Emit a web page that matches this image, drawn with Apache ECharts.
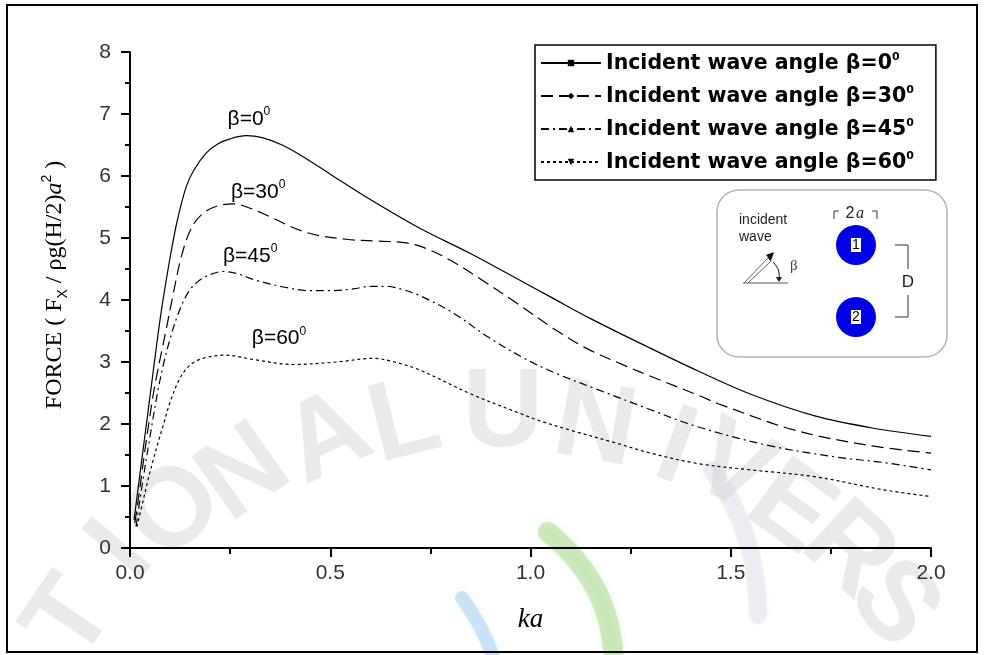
<!DOCTYPE html>
<html>
<head>
<meta charset="utf-8">
<title>Horizontal wave force on cylinder 1</title>
<script src="https://cdn.jsdelivr.net/npm/echarts@6/dist/echarts.min.js"></script>
<style>
  html, body { margin: 0; padding: 0; background: #fff; }
  #chart { width: 985px; height: 655px; }
</style>
</head>
<body>
<div id="chart"></div>
<script>
// Non-dimensional horizontal force F_X / (rho g (H/2) a^2) against ka,
// one curve per incident wave angle beta.
const angles = [0, 30, 45, 60];

const force0 = [
  [0.01, 0.45], [0.02, 0.95], [0.03, 1.45], [0.04, 1.95], [0.05, 2.45], [0.06, 2.95],
  [0.07, 3.45], [0.08, 3.9], [0.09, 4.3], [0.1, 4.68], [0.117, 5.25], [0.14, 5.82],
  [0.16, 6.1], [0.19, 6.37], [0.22, 6.52], [0.25, 6.6], [0.29, 6.65], [0.33, 6.62],
  [0.38, 6.5], [0.44, 6.28], [0.5, 6.03], [0.6, 5.62], [0.72, 5.17], [0.85, 4.75],
  [0.97, 4.33], [1.05, 4.05], [1.15, 3.7], [1.3, 3.22], [1.42, 2.85], [1.55, 2.48],
  [1.71, 2.13], [1.85, 1.94], [2.0, 1.8]
];
const force30 = [
  [0.012, 0.4], [0.02, 0.75], [0.04, 1.7], [0.06, 2.55], [0.08, 3.2], [0.092, 3.58],
  [0.108, 4.1], [0.129, 4.72], [0.154, 5.17], [0.183, 5.4], [0.22, 5.52], [0.26, 5.55],
  [0.3, 5.48], [0.34, 5.37], [0.44, 5.09], [0.54, 4.98], [0.62, 4.95], [0.69, 4.92],
  [0.74, 4.83], [0.8, 4.64], [0.87, 4.36], [0.965, 3.95], [1.06, 3.53], [1.14, 3.22],
  [1.24, 2.93], [1.3, 2.77], [1.42, 2.46], [1.48, 2.3], [1.66, 1.9], [1.84, 1.66],
  [2.0, 1.53]
];
const force45 = [
  [0.015, 0.35], [0.03, 1.0], [0.05, 1.8], [0.07, 2.55], [0.085, 3.0], [0.1, 3.37],
  [0.121, 3.79], [0.146, 4.13], [0.17, 4.3], [0.2, 4.41], [0.233, 4.46], [0.27, 4.42],
  [0.308, 4.33], [0.383, 4.21], [0.45, 4.15], [0.5, 4.15], [0.558, 4.18], [0.6, 4.22],
  [0.64, 4.22], [0.68, 4.17], [0.724, 4.07], [0.81, 3.78], [0.89, 3.42], [0.99, 3.04],
  [1.07, 2.8], [1.17, 2.55], [1.3, 2.23], [1.41, 1.97], [1.59, 1.66], [1.76, 1.47],
  [1.88, 1.38], [2.0, 1.26]
];
const force60 = [
  [0.017, 0.34], [0.033, 0.77], [0.045, 1.1], [0.058, 1.42], [0.07, 1.7], [0.083, 1.98],
  [0.1, 2.35], [0.125, 2.74], [0.15, 2.95], [0.183, 3.06], [0.24, 3.11], [0.308, 3.04],
  [0.408, 2.96], [0.516, 3.0], [0.607, 3.06], [0.66, 3.0], [0.724, 2.87], [0.849, 2.49],
  [0.974, 2.17], [1.024, 2.05], [1.1, 1.9], [1.215, 1.69], [1.3, 1.53], [1.42, 1.36],
  [1.55, 1.26], [1.71, 1.15], [1.88, 0.94], [2.0, 0.83]
];

// Curve annotations: [ka, force] where each "beta=..." tag sits.
const tagPositions = [[0.297, 6.94], [0.32, 5.77], [0.30, 4.73], [0.372, 3.40]];

const xTicks = [0, 0.5, 1.0, 1.5, 2.0];
const yTicks = [0, 1, 2, 3, 4, 5, 6, 7, 8];

const curves = [force0, force30, force45, force60];
const dashes = ['solid', [12, 6], [8, 4, 2, 4], [3, 3]];
const legendSymbols = ['rect', 'diamond', 'triangle', 'path://M0,0L10,0L5,9Z'];

const series = angles.map((b, i) => ({
  name: 'Incident wave angle β=' + b,
  type: 'line',
  data: curves[i],
  smooth: 0.35,
  showSymbol: false,
  symbol: legendSymbols[i],
  symbolSize: 5,
  itemStyle: { color: '#000' },
  lineStyle: { color: '#000', width: 1.2, type: dashes[i] },
  emphasis: { disabled: true },
  markPoint: {
    symbol: 'circle',
    symbolSize: 0,
    silent: true,
    data: [{ coord: tagPositions[i] }],
    label: {
      show: true,
      position: 'inside',
      formatter: '{b|β=' + b + '}{s|0}',
      rich: {
        b: { fontFamily: 'Liberation Sans', fontSize: 21, color: '#000', lineHeight: 24, verticalAlign: 'bottom' },
        s: { fontFamily: 'Liberation Sans', fontSize: 12, color: '#000', lineHeight: 12, verticalAlign: 'top' }
      }
    }
  }
}));

// Faint university seal behind the plot
const sealLetters = [
  ['T', 72, 620, 56], ['I', 122, 552, 50], ['O', 176, 512, 44], ['N', 245, 475, 35],
  ['A', 328, 440, 25], ['L', 405, 424, 14], ['U', 503, 415, 0], ['N', 595, 428, -10],
  ['I', 675, 450, -20], ['V', 732, 470, -28], ['E', 790, 510, -36], ['R', 848, 552, -43],
  ['S', 893, 605, -50]
];
const sealGraphics = sealLetters.map(([ch, x, y, deg]) => ({
  type: 'text',
  x: x, y: y,
  rotation: deg * Math.PI / 180,
  z: -10, silent: true,
  style: {
    text: ch,
    font: 'bold 112px "Liberation Sans"',
    fill: 'rgba(175,175,175,0.26)',
    shadowBlur: 8,
    shadowColor: 'rgba(175,175,175,0.3)',
    textAlign: 'center',
    textVerticalAlign: 'middle'
  }
}));
sealGraphics.push(
  { type: 'bezierCurve', z: -10, silent: true,
    shape: { x1: 548, y1: 532, cpx1: 600, cpy1: 575, cpx2: 612, cpy2: 620, x2: 614, y2: 660 },
    style: { stroke: 'rgba(150,210,120,0.42)', lineWidth: 20, fill: null, lineCap: 'round',
      shadowBlur: 6, shadowColor: 'rgba(150,210,120,0.4)' } },
  { type: 'bezierCurve', z: -10, silent: true,
    shape: { x1: 712, y1: 470, cpx1: 748, cpy1: 520, cpx2: 758, cpy2: 570, x2: 758, y2: 615 },
    style: { stroke: 'rgba(205,212,225,0.35)', lineWidth: 18, fill: null, lineCap: 'round',
      shadowBlur: 6, shadowColor: 'rgba(205,212,225,0.3)' } },
  { type: 'bezierCurve', z: -10, silent: true,
    shape: { x1: 462, y1: 598, cpx1: 478, cpy1: 620, cpx2: 488, cpy2: 640, x2: 494, y2: 660 },
    style: { stroke: 'rgba(120,190,230,0.35)', lineWidth: 14, fill: null, lineCap: 'round',
      shadowBlur: 6, shadowColor: 'rgba(120,190,230,0.3)' } }
);

// Sketch of the two-cylinder arrangement
const inset = [
  { type: 'rect', z: 10, shape: { x: 717, y: 190, width: 230, height: 167, r: 22 },
    style: { fill: '#fff', stroke: '#b4b4b4', lineWidth: 1.5 } },
  { type: 'text', z: 11, x: 739, y: 212,
    style: { text: 'incident\nwave', font: '14px "Liberation Sans"', fill: '#222', lineHeight: 17 } },
  { type: 'line', z: 11, shape: { x1: 743, y1: 283, x2: 788, y2: 283 }, style: { stroke: '#555', lineWidth: 1 } },
  { type: 'polyline', z: 11, shape: { points: [[744, 283], [768, 258], [771, 261], [748, 283]] },
    style: { stroke: '#666', lineWidth: 1, fill: null } },
  { type: 'polygon', z: 11, shape: { points: [[766, 255], [774, 252], [771, 261]] }, style: { fill: '#111' } },
  { type: 'bezierCurve', z: 11, shape: { x1: 773, y1: 262, cpx1: 779, cpy1: 268, cpx2: 780, cpy2: 274, x2: 779, y2: 280 },
    style: { stroke: '#111', lineWidth: 1, fill: null } },
  { type: 'polygon', z: 11, shape: { points: [[776, 277], [782, 277], [779, 282]] }, style: { fill: '#111' } },
  { type: 'text', z: 11, x: 790, y: 266,
    style: { text: 'β', font: '15px "Liberation Serif"', fill: '#444', textAlign: 'left', textVerticalAlign: 'middle' } },
  { type: 'polyline', z: 11, shape: { points: [[834, 219], [834, 211], [839, 211]] }, style: { stroke: '#333', lineWidth: 1, fill: null } },
  { type: 'polyline', z: 11, shape: { points: [[872, 211], [877, 211], [877, 219]] }, style: { stroke: '#333', lineWidth: 1, fill: null } },
  { type: 'text', z: 11, x: 850, y: 214,
    style: { text: '2', font: '16px "Liberation Sans"', fill: '#222', textAlign: 'center', textVerticalAlign: 'middle' } },
  { type: 'text', z: 11, x: 860, y: 214,
    style: { text: 'a', font: 'italic 16px "Liberation Serif"', fill: '#222', textAlign: 'center', textVerticalAlign: 'middle' } },
  { type: 'circle', z: 11, shape: { cx: 856, cy: 245, r: 20 }, style: { fill: '#0000e6' } },
  { type: 'rect', z: 12, shape: { x: 851, y: 238, width: 10, height: 14 }, style: { fill: '#fff' } },
  { type: 'text', z: 13, x: 856, y: 245,
    style: { text: '1', font: '14px "Liberation Sans"', fill: '#000', textAlign: 'center', textVerticalAlign: 'middle' } },
  { type: 'circle', z: 11, shape: { cx: 856, cy: 317, r: 20 }, style: { fill: '#0000e6' } },
  { type: 'rect', z: 12, shape: { x: 851, y: 310, width: 10, height: 14 }, style: { fill: '#fff' } },
  { type: 'text', z: 13, x: 856, y: 317,
    style: { text: '2', font: '14px "Liberation Sans"', fill: '#000', textAlign: 'center', textVerticalAlign: 'middle' } },
  { type: 'polyline', z: 11, shape: { points: [[895, 245], [908, 245], [908, 269]] }, style: { stroke: '#333', lineWidth: 1, fill: null } },
  { type: 'polyline', z: 11, shape: { points: [[908, 295], [908, 317], [895, 317]] }, style: { stroke: '#333', lineWidth: 1, fill: null } },
  { type: 'text', z: 11, x: 908, y: 282,
    style: { text: 'D', font: '17px "Liberation Sans"', fill: '#222', textAlign: 'center', textVerticalAlign: 'middle' } }
];

const frame = {
  type: 'rect', z: 20, silent: true,
  shape: { x: 7, y: 5, width: 970, height: 647 },
  style: { fill: null, stroke: '#000', lineWidth: 2 }
};

const chart = echarts.init(document.getElementById('chart'), null, { renderer: 'canvas' });
chart.setOption({
  animation: false,
  backgroundColor: '#fff',
  grid: { left: 130, right: 54, top: 52, bottom: 107 },
  legend: {
    orient: 'vertical',
    left: 535, top: 45,
    padding: [7, 22, 7, 5],
    itemWidth: 60, itemHeight: 8, itemGap: 11,
    borderColor: '#000', borderWidth: 1.5,
    backgroundColor: '#fff',
    selectedMode: false,
    data: series.map(s => s.name),
    formatter: name => '{t|' + name + '}{s|0}',
    textStyle: {
      rich: {
        t: { fontFamily: 'DejaVu Sans', fontWeight: 'bold', fontSize: 20.5, color: '#000', lineHeight: 22, verticalAlign: 'bottom' },
        s: { fontFamily: 'DejaVu Sans', fontWeight: 'bold', fontSize: 11, color: '#000', lineHeight: 11, verticalAlign: 'top' }
      }
    }
  },
  xAxis: {
    type: 'value', min: 0, max: 2, interval: 0.5,
    name: 'ka', nameLocation: 'middle', nameGap: 58,
    nameTextStyle: { fontFamily: 'Liberation Serif', fontStyle: 'italic', fontSize: 27, color: '#000' },
    axisLine: { onZero: false, lineStyle: { color: '#000', width: 2 } },
    axisTick: { show: true, inside: false, length: 9, lineStyle: { color: '#000', width: 2 } },
    minorTick: { show: true, splitNumber: 2, length: 6, lineStyle: { color: '#000', width: 2 } },
    splitLine: { show: false },
    axisLabel: { fontFamily: 'Liberation Sans', fontSize: 21, color: '#333', margin: 15,
      formatter: v => (xTicks.indexOf(v) >= 0 ? v.toFixed(1) : '') }
  },
  yAxis: {
    type: 'value', min: 0, max: 8, interval: 1,
    name: '{n|FORCE ( F}{d|X}{n| / ρg(H/2)}{i|a}{u|2}{n| )}',
    nameLocation: 'middle', nameGap: 60, nameRotate: 90,
    nameTextStyle: {
      padding: [0, 0, 0, 30],
      rich: {
        n: { fontFamily: 'Liberation Serif', fontSize: 24, color: '#000', lineHeight: 30 },
        i: { fontFamily: 'Liberation Serif', fontStyle: 'italic', fontSize: 24, color: '#000', lineHeight: 30 },
        d: { fontFamily: 'Liberation Sans', fontSize: 14, color: '#000', lineHeight: 14, verticalAlign: 'bottom' },
        u: { fontFamily: 'Liberation Sans', fontSize: 14, color: '#000', lineHeight: 14, verticalAlign: 'top' }
      }
    },
    axisLine: { onZero: false, lineStyle: { color: '#000', width: 2 } },
    axisTick: { show: true, inside: false, length: 9, lineStyle: { color: '#000', width: 2 } },
    minorTick: { show: true, splitNumber: 2, length: 5, lineStyle: { color: '#000', width: 2 } },
    splitLine: { show: false },
    axisLabel: { fontFamily: 'Liberation Sans', fontSize: 21, color: '#333', margin: 19,
      formatter: v => (yTicks.indexOf(v) >= 0 ? String(v) : '') }
  },
  graphic: { elements: sealGraphics.concat(inset, [frame]) },
  series: series
});
</script>
</body>
</html>
